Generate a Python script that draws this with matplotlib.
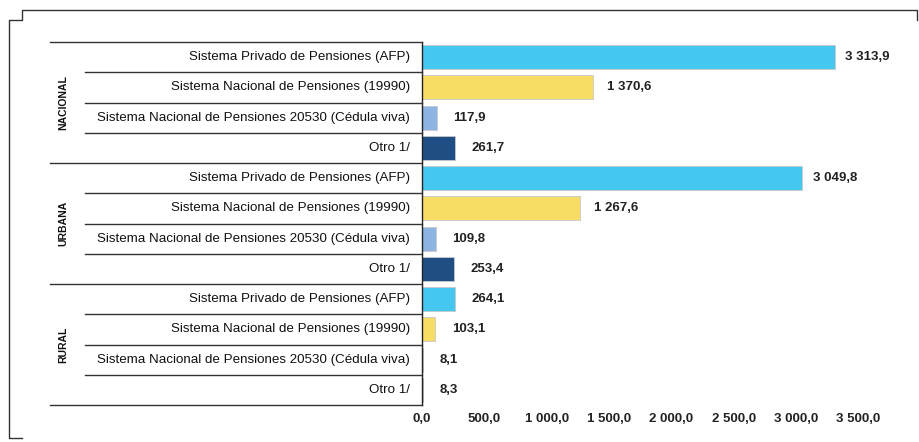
import matplotlib.pyplot as plt
from matplotlib.lines import Line2D
import matplotlib.transforms as mtransforms

plt.rcParams['font.family'] = ['Liberation Sans', 'DejaVu Sans']

groups = ['NACIONAL', 'URBANA', 'RURAL']
categories = ['Sistema Privado de Pensiones (AFP)',
              'Sistema Nacional de Pensiones (19990)',
              'Sistema Nacional de Pensiones 20530 (Cédula viva)',
              'Otro 1/']
values = {
    'NACIONAL': [3313.9, 1370.6, 117.9, 261.7],
    'URBANA': [3049.8, 1267.6, 109.8, 253.4],
    'RURAL': [264.1, 103.1, 8.1, 8.3],
}
colors = ['#45C8F0', '#F7DC65', '#8DB4E2', '#1F4E85']
xticks = [0, 500, 1000, 1500, 2000, 2500, 3000, 3500]


def fmt(v):
    s = f"{v:,.1f}"
    return s.replace(',', ' ').replace('.', ',')


W, H = 919, 442
fig = plt.figure(figsize=(W / 100, H / 100), dpi=100)
ax = fig.add_axes([422 / W, 1 - 405 / H, (877 - 422) / W, (405 - 42) / H])

# Bars and value labels
row = 0
for g in groups:
    for i, cat in enumerate(categories):
        v = values[g][i]
        ax.barh(row, v, height=0.8, color=colors[i], edgecolor='#C8C8C8', linewidth=0.6)
        off = (17 - 0.002 * v) * 0.72  # px -> pt
        ax.annotate(fmt(v), (v, row), xytext=(off, 0), textcoords='offset points',
                    va='center', ha='left', fontsize=9.5, fontweight='bold', color='#222222')
        row += 1

n = row
ax.set_ylim(n - 0.5, -0.5)
ax.set_xlim(0, 3650)
ax.set_yticks([])
ax.set_xticks(xticks)
ax.set_xticklabels([fmt(t) for t in xticks], fontsize=9.5, fontweight='bold', color='#222222')
ax.tick_params(axis='x', length=0, pad=6)
for s in ['top', 'right', 'bottom']:
    ax.spines[s].set_visible(False)
ax.spines['left'].set_linewidth(1.0)
ax.spines['left'].set_color('#222222')

# Category table on the left
tr = mtransforms.blended_transform_factory(fig.transFigure, ax.transData)
x_axis = 422 / W
x_inner = 85 / W
x_outer = 50 / W
row = 0
for gi, g in enumerate(groups):
    top = row - 0.5
    fig.add_artist(Line2D([x_outer, x_axis], [top, top], transform=tr, color='#333333', lw=1.0))
    for i, cat in enumerate(categories):
        if i > 0:
            y = row - 0.5
            fig.add_artist(Line2D([x_inner, x_axis], [y, y], transform=tr, color='#333333', lw=1.0))
        fig.text(410 / W, row, cat, transform=tr, ha='right', va='center', fontsize=9.6,
                 color='#111111')
        row += 1
    fig.text(63 / W, top + 2, g, transform=tr, rotation=90, ha='center', va='center',
             fontsize=7.5, fontweight='bold', color='#111111')
fig.add_artist(Line2D([x_outer, x_axis], [n - 0.5, n - 0.5], transform=tr, color='#333333', lw=1.0))

# Outer frame
fx = lambda p: p / W
fy = lambda p: 1 - p / H
frame_x = [fx(917), fx(917), fx(22), fx(22), fx(9), fx(9), fx(22)]
frame_y = [fy(20), fy(10), fy(10), fy(20), fy(20), fy(438), fy(438)]
fig.add_artist(Line2D(frame_x, frame_y, transform=fig.transFigure, color='#333333', lw=1.0))

fig.savefig('out.png', dpi=100)
